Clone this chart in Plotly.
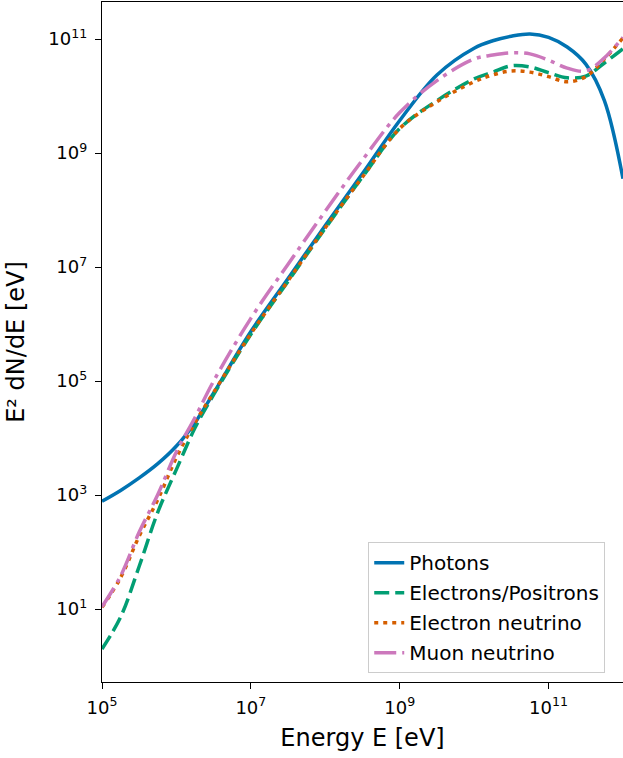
import plotly.graph_objects as go

# log10(E / eV)
log_energy = [5.0, 5.25, 5.5, 5.75, 6.0, 6.25, 6.5, 7.0, 7.5, 8.0, 8.5, 9.0,
              9.5, 10.0, 10.25, 10.5, 10.75, 11.0, 11.25, 11.5, 11.75, 12.0]

# log10(E^2 dN/dE / eV)
photons_log = [2.89, 3.08, 3.30, 3.55, 3.86, 4.27, 4.79, 5.87, 6.80, 7.73, 8.64, 9.57,
               10.37, 10.84, 10.97, 11.05, 11.09, 11.03, 10.86, 10.56, 9.92, 8.55]
electrons_log = [0.30, 0.86, 1.75, 2.70, 3.45, 4.18, 4.76, 5.82, 6.75, 7.68, 8.58, 9.43,
                 9.92, 10.30, 10.42, 10.53, 10.51, 10.41, 10.32, 10.35, 10.58, 10.83]
nue_log = [1.03, 1.55, 2.28, 2.92, 3.66, 4.27, 4.80, 5.83, 6.76, 7.69, 8.58, 9.43,
           9.90, 10.25, 10.37, 10.44, 10.42, 10.34, 10.25, 10.34, 10.65, 11.02]
numu_log = [1.04, 1.58, 2.35, 3.01, 3.76, 4.36, 5.00, 6.10, 7.05, 7.98, 8.88, 9.71,
            10.27, 10.65, 10.72, 10.76, 10.74, 10.63, 10.49, 10.44, 10.67, 11.03]

names = ["Photons", "Electrons/Positrons", "Electron neutrino", "Muon neutrino"]
colors = ["#0173b2", "#029e73", "#d55e00", "#cc78bc"]
dashes = ["solid", "15px,6px", "4px,5px", "22px,6px,4px,6px"]
series = [photons_log, electrons_log, nue_log, numu_log]

x_tick_exp = [5, 7, 9, 11]
y_tick_exp = [1, 3, 5, 7, 9, 11]

energy = [10 ** v for v in log_energy]

fig = go.Figure()
for name, col, dash, vals in zip(names, colors, dashes, series):
    fig.add_trace(go.Scatter(
        x=energy, y=[10 ** v for v in vals], mode="lines", name=name,
        legendgroup=name,
        line=dict(color=col, width=3.5, dash=dash, shape="spline", smoothing=1.0),
    ))

font = "DejaVu Sans, Verdana, sans-serif"
fig.update_layout(
    width=623, height=758,
    margin=dict(l=102, r=0, t=2, b=76),
    paper_bgcolor="white", plot_bgcolor="white",
    font=dict(family=font, color="black", size=17),
    showlegend=True,
    legend=dict(
        x=0.511, y=0.013, xanchor="left", yanchor="bottom",
        bgcolor="rgba(255,255,255,0.85)", bordercolor="#cccccc", borderwidth=1,
        font=dict(size=20, family=font), tracegroupgap=1, traceorder="grouped",
        entrywidth=210, entrywidthmode="pixels",
    ),
)
fig.update_xaxes(
    type="log", range=[5, 12], automargin=False,
    tickvals=[10 ** e for e in x_tick_exp],
    ticktext=["10<sup>%d</sup>" % e for e in x_tick_exp],
    showgrid=False, zeroline=False, showline=True, linecolor="black", linewidth=1.3,
    mirror=True, ticks="outside", ticklen=6, tickwidth=1.3, tickcolor="black",
    tickfont=dict(size=18), ticklabelstandoff=3,
    title=dict(text="Energy E [eV]", font=dict(size=24), standoff=12),
)
fig.update_yaxes(
    type="log", range=[-0.28, 11.65], automargin=False,
    tickvals=[10 ** e for e in y_tick_exp],
    ticktext=["10<sup>%d</sup>" % e for e in y_tick_exp],
    showgrid=False, zeroline=False, showline=True, linecolor="black", linewidth=1.3,
    ticks="outside", ticklen=6, tickwidth=1.3, tickcolor="black",
    tickfont=dict(size=18), ticklabelstandoff=4,
    title=dict(text="E² dN/dE [eV]", font=dict(size=24), standoff=16),
)

fig.write_html("out.html", config={"displayModeBar": False},
               post_script="document.body.style.margin='0';")
